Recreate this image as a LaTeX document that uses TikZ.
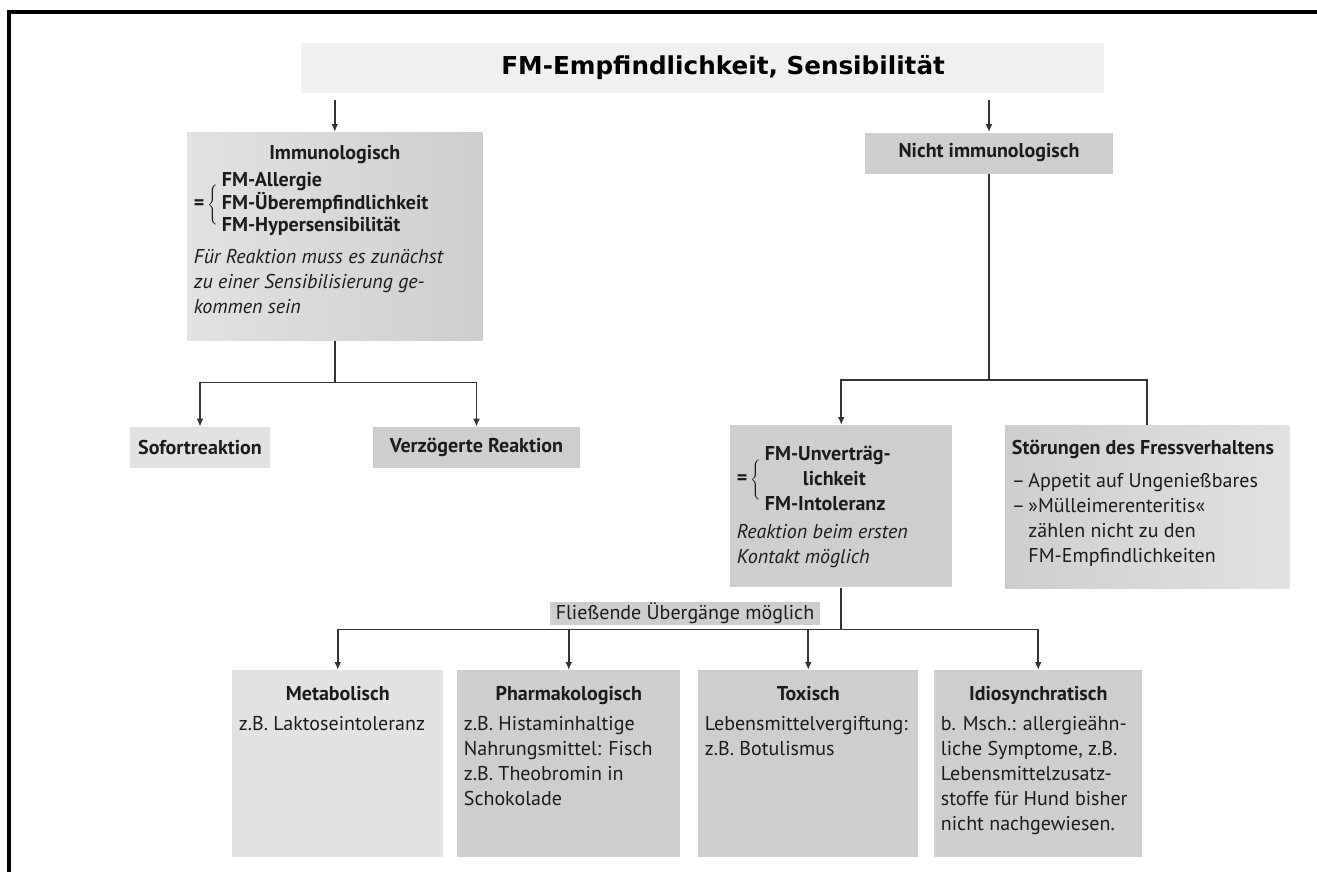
\documentclass[tikz,border=0pt]{standalone}
\usepackage{fontspec}
\setmainfont{PT Sans}
\newfontfamily\headfont{DejaVu Sans}
\usetikzlibrary{arrows.meta,positioning,calc}
\definecolor{linegrey}{RGB}{50,50,50}
\definecolor{boxgrey}{RGB}{206,206,206}
\definecolor{boxlight}{RGB}{226,226,226}
\definecolor{titlegrey}{RGB}{240,240,240}
\definecolor{textgrey}{RGB}{28,28,28}
\newcommand{\boxbody}[3]{\parbox[t][#2][t]{#1}{\raggedright #3}}
\newcommand{\boxhead}[1]{{\centering\textbf{#1}\par}\vspace{4pt}}

\begin{document}
\begin{tikzpicture}[x=0.75pt,y=-0.75pt,
  every node/.style={font=\fontsize{15}{18.75}\selectfont,text=textgrey},
  tbox/.style={fill=boxgrey,anchor=north west,inner xsep=5pt,inner ysep=10pt},
  hbox/.style={fill=boxgrey,inner sep=0pt,minimum height=30.75pt,font=\fontsize{15}{18.75}\selectfont\bfseries},
  lbl/.style={fill=boxgrey,inner sep=0pt,minimum width=202.5pt,minimum height=17.25pt},
  ar/.style={-{Latex[length=6pt,width=5pt]},color=linegrey,line width=1.2pt},
  ln/.style={color=linegrey,line width=1.2pt}]
\path[use as bounding box,fill=white] (0,0) rectangle (1317,872);
\draw[line width=2.4pt] (1317,12) -- (9,12) -- (9,872);
% top level
\node[fill=titlegrey,minimum width=602.25pt,minimum height=37.5pt,inner sep=0pt,text=black,
  font=\headfont\bfseries\fontsize{18.5}{22}\selectfont] (title) at (702.5,68) {\hspace*{31pt}FM-Empfindlichkeit, Sensibilität};
\node[tbox,left color=boxlight,right color=boxgrey] (imm) at (187,132) {\boxbody{211.25pt}{136pt}{%
  \boxhead{Immunologisch}
  \textbf{=}\,$\Bigg\{$\,\def\arraystretch{0.88}\begin{tabular}{@{}l@{}}\textbf{FM-Allergie}\\\textbf{FM-Überempfindlichkeit}\\\textbf{FM-Hypersensibilität}\end{tabular}\par\vspace{7pt}
  \textit{Für Reaktion muss es zunächst}\\\textit{zu einer Sensibilisierung ge-}\\\textit{kommen sein}}};
\node[hbox,minimum width=186pt] (nimm) at (989,153) {Nicht immunologisch};
% immunologisch
\node[hbox,fill=boxlight,minimum width=105pt] (sof) at (200,447.5) {Sofortreaktion};
\node[hbox,minimum width=155.25pt] (verz) at (476.5,447.5) {Verzögerte Reaktion};
% nicht immunologisch
\node[tbox] (unv) at (730,425) {\boxbody{156.5pt}{101.5pt}{%
  \vspace*{3pt}\textbf{=}\,$\Bigg\{$\,\def\arraystretch{1.0}\begin{tabular}{@{}l@{}}\textbf{FM-Unverträg-}\\\hspace*{1.9em}\textbf{lichkeit}\\\textbf{FM-Intoleranz}\end{tabular}\par\vspace{4pt}
  \textit{Reaktion beim ersten}\\\textit{Kontakt möglich}}};
\node[tbox,left color=boxgrey,right color=boxlight] (stoer) at (1005,425) {\boxbody{203pt}{102.25pt}{%
  \vspace*{1pt}\textbf{Störungen des Fressverhaltens}\par\vspace{6pt}
  –\,Appetit auf Ungenießbares\\–\,»Mülleimerenteritis«\\\phantom{–\,}zählen nicht zu den\\\phantom{–\,}FM-Empfindlichkeiten}};
% untergruppen
\node[tbox,fill=boxlight] (meta) at (232,670) {\boxbody{148.25pt}{120.25pt}{%
  \vspace*{2pt}\boxhead{Metabolisch}
  z.B. Laktoseintoleranz}};
\node[tbox] (pharm) at (457,670) {\boxbody{157.25pt}{120.25pt}{%
  \vspace*{2pt}\boxhead{Pharmakologisch}
  z.B. Histaminhaltige\\Nahrungsmittel: Fisch\\z.B. Theobromin in\\Schokolade}};
\node[tbox] (tox) at (698,670) {\boxbody{155pt}{120.25pt}{%
  \vspace*{2pt}\boxhead{Toxisch}
  Lebensmittelvergiftung:\\z.B. Botulismus}};
\node[tbox] (idio) at (934,670) {\boxbody{146pt}{120.25pt}{%
  \vspace*{2pt}\boxhead{Idiosynchratisch}
  b. Msch.: allergieähn-\\liche Symptome, z.B.\\Lebensmittelzusatz-\\stoffe für Hund bisher\\nicht nachgewiesen.}};
\node[lbl] (flies) at (685,613.5) {Fließende Übergänge möglich};
% connectors
\draw[ar,shorten <=5pt] (title.south -| imm.north) -- (imm.north);
\draw[ar,shorten <=5pt] (title.south -| nimm.north) -- (nimm.north);
\path (imm.south) ++(0,42) coordinate (jl);
\draw[ln] (imm.south) -- (jl);
\draw[ar] (jl) -| (sof.north);
\draw[ar] (jl) -| (verz.north);
\path (nimm.south) ++(0,206) coordinate (jr);
\draw[ln] (nimm.south) -- (jr);
\draw[ar] (jr) -| (unv.north);
\draw[ln] (jr) -| (stoer.north);
\path (unv.south) ++(0,42) coordinate (jb);
\draw[ln] (unv.south) -- (jb);
\foreach \b in {meta,pharm,tox,idio} \draw[ar] (jb) -| (\b.north);
\end{tikzpicture}
\end{document}
